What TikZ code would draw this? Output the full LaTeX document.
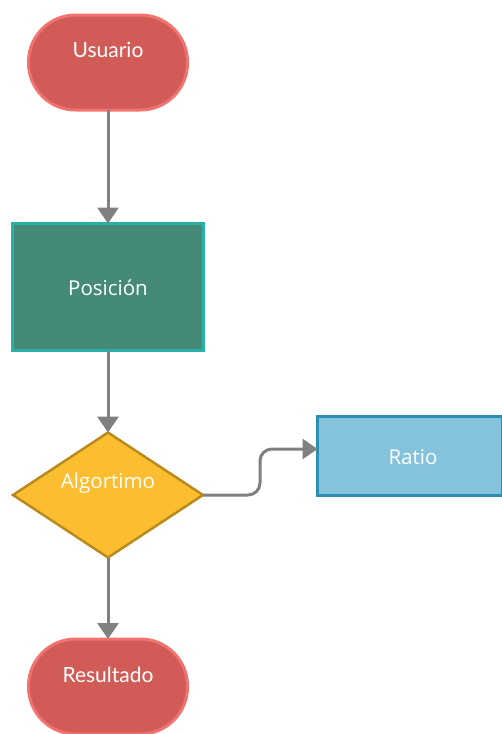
\documentclass[tikz,border=0pt]{standalone}
\usepackage{fontspec}
\newfontfamily\termfont{Lato}
\newfontfamily\boxfont{Open Sans}
\usetikzlibrary{shapes.geometric,arrows.meta}

\definecolor{termfill}{HTML}{D15C57}
\definecolor{termline}{HTML}{F27270}
\definecolor{posfill}{HTML}{458A77}
\definecolor{posline}{HTML}{29B1A9}
\definecolor{decfill}{HTML}{FBBE30}
\definecolor{decline}{HTML}{BA8A1C}
\definecolor{ratiofill}{HTML}{85C3DC}
\definecolor{ratioline}{HTML}{2D8EB4}
\definecolor{connline}{HTML}{808080}

\tikzset{
  terminal/.style={draw=termline, fill=termfill, line width=3pt,
    rounded corners=47pt, minimum width=159pt, minimum height=95pt,
    inner sep=0pt, outer sep=0pt},
  procbox/.style={draw=posline, fill=posfill, line width=3pt,
    minimum width=191pt, minimum height=127pt, inner sep=0pt, outer sep=0pt},
  decision/.style={diamond, draw=decline, fill=decfill, line width=2.5pt,
    minimum width=190pt, minimum height=125pt, inner sep=0pt, outer sep=0pt},
  outbox/.style={draw=ratioline, fill=ratiofill, line width=3pt,
    minimum width=185pt, minimum height=79pt, inner sep=0pt, outer sep=0pt},
  termtext/.style={text=white, font=\termfont\fontsize{21}{25}\selectfont},
  boxtext/.style={text=white, font=\boxfont\fontsize{20.5}{25}\selectfont},
  conn/.style={draw=connline, line width=3pt,
    -{Triangle[width=21pt,length=16pt]}},
  connside/.style={draw=connline, line width=3pt, rounded corners=12pt,
    -{Triangle[width=20pt,length=15pt]}}
}

\begin{document}
\begin{tikzpicture}[x=1pt,y=-1pt]
  \useasboundingbox (0,0) rectangle (502,734);

  % shapes
  \node[terminal] (usuario) at (108,62.5) {};
  \node[termtext] (usuariot) at (108,50) {Usuario};

  \node[procbox] (posicion) at (108,287) {};
  \node[boxtext] (posiciont) at (108,288) {Posición};

  \node[decision] (algo) at (108,495) {};
  \node[boxtext] (algot) at (108,483) {Algortimo};

  \node[outbox] (ratio) at (410,456) {};
  \node[boxtext] (ratiot) at (413,457) {Ratio};

  \node[terminal] (resultado) at (108,686.5) {};
  \node[termtext] (resultadot) at (108,675) {Resultado};

  % connectors
  \draw[conn] (usuario.south) -- (posicion.north);
  \draw[conn] (posicion.south) -- (algo.north);
  \draw[conn] (algo.south) -- (resultado.north);
  \draw[connside] (algo.east) -- (260,495) -- (260,449)
    -- ([yshift=7pt]ratio.west);
\end{tikzpicture}
\end{document}
